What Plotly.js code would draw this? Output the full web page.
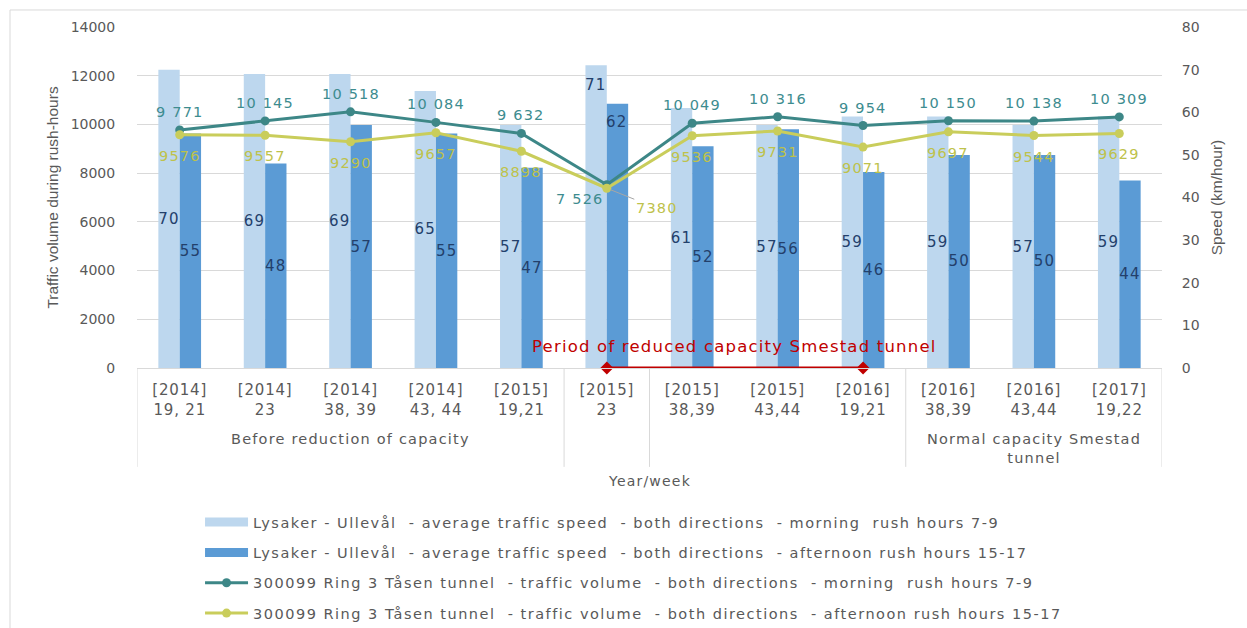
<!DOCTYPE html>
<html><head><meta charset="utf-8">
<script src="https://cdn.plot.ly/plotly-3.0.1.min.js"></script>
<style>
html,body{margin:0;padding:0;background:#fff}
#chart{width:1247px;height:628px}
.legendtext{letter-spacing:1.5px}
.bartext, .annotation-text{letter-spacing:1.2px}
.xtick text{letter-spacing:0.8px}
</style>
</head><body><div id="chart"></div>
<script>
// ---- data ----
const periods = ["[2014]<br>19, 21","[2014]<br>23","[2014]<br>38, 39","[2014]<br>43, 44","[2015]<br>19,21","[2015]<br>23","[2015]<br>38,39","[2015]<br>43,44","[2016]<br>19,21","[2016]<br>38,39","[2016]<br>43,44","[2017]<br>19,22"];
const speedMorning   = [70,69,69,65,57,71,61,57,59,59,57,59];
const speedAfternoon = [55,48,57,55,47,62,52,56,46,50,50,44];
const volumeMorning   = [9771,10145,10518,10084,9632,7526,10049,10316,9954,10150,10138,10309];
const volumeAfternoon = [9576,9557,9290,9657,8898,7380,9536,9731,9071,9697,9544,9629];
const groupLabels = ["Before reduction of capacity","","","Normal capacity Smestad<br>tunnel"];
const groupSizes  = [5,1,3,3];
const reducedPeriod = ["[2015]<br>23","[2016]<br>19,21"];
const reducedLabel = "Period of reduced capacity Smestad tunnel";
const axisTitleLeft = "Traffic volume during rush-hours";
const axisTitleRight = "Speed (km/hour)";
const axisTitleX = "Year/week";
const seriesNames = [
  "Lysaker - Ullevål\u00a0 - average traffic speed\u00a0 - both directions\u00a0 - morning\u00a0 rush hours 7-9",
  "Lysaker - Ullevål\u00a0 - average traffic speed\u00a0 - both directions\u00a0 - afternoon rush hours 15-17",
  "300099 Ring 3 Tåsen tunnel\u00a0 - traffic volume\u00a0 - both directions\u00a0 - morning\u00a0 rush hours 7-9",
  "300099 Ring 3 Tåsen tunnel\u00a0 - traffic volume\u00a0 - both directions\u00a0 - afternoon rush hours 15-17"
];

// ---- style ----
const C = {light:"#bdd7ee", dark:"#5b9bd5", teal:"#3d8787", yellow:"#c9cd5b",
           tealText:"#3d8c8f", yellowText:"#bec24b", barText:"#23406b", grid:"#d9d9d9", text:"#595959", red:"#c00000"};
const F = "DejaVu Sans, Verdana, sans-serif";
const TF = "Liberation Sans, Arial, sans-serif";
const spaced = v => String(v).replace(/\B(?=(\d{3})+(?!\d))/g, "\u00a0");
const ri = volumeMorning.indexOf(Math.min(...volumeMorning));   // the tunnel-closure dip
const barShift = 10.7;

const traces = [
  // legend-only swatches for the bar series (wide rectangles as in the original)
  {type:"scatter", mode:"lines", x:[null], y:[null], name:seriesNames[0], line:{color:C.light, width:9}, legendgroup:"a", hoverinfo:"skip"},
  {type:"scatter", mode:"lines", x:[null], y:[null], name:seriesNames[1], line:{color:C.dark, width:9}, legendgroup:"b", hoverinfo:"skip"},
  {type:"bar", x:periods, y:speedMorning, name:seriesNames[0], marker:{color:C.light}, showlegend:false,
   text:speedMorning.map((v,i)=> i===ri ? "" : String(v)), textposition:"inside", insidetextanchor:"middle",
   constraintext:"none", textangle:0, textfont:{family:F, size:15, color:C.barText}, yaxis:"y", hoverinfo:"skip"},
  {type:"bar", x:periods, y:speedAfternoon, name:seriesNames[1], marker:{color:C.dark}, showlegend:false,
   text:speedAfternoon.map((v,i)=> i===ri ? "" : String(v)), textposition:"inside", insidetextanchor:"middle",
   constraintext:"none", textangle:0, textfont:{family:F, size:15, color:C.barText}, yaxis:"y", hoverinfo:"skip"},
  {type:"scatter", mode:"lines+markers", x:reducedPeriod, y:[0,0], showlegend:false, cliponaxis:false,
   line:{color:C.red, width:3}, marker:{symbol:"diamond", size:10, color:C.red}, yaxis:"y", hoverinfo:"skip"},
  {type:"scatter", mode:"lines+markers", x:periods, y:volumeMorning, name:seriesNames[2], yaxis:"y2",
   line:{color:C.teal, width:3}, marker:{size:9, color:C.teal}, cliponaxis:false, legendgroup:"c", hoverinfo:"skip"},
  {type:"scatter", mode:"lines+markers", x:periods, y:volumeAfternoon, name:seriesNames[3], yaxis:"y2",
   line:{color:C.yellow, width:3}, marker:{size:9, color:C.yellow}, cliponaxis:false, legendgroup:"d", hoverinfo:"skip"}
];

const shapes = [];
const annotations = [];

// data labels of the two volume lines
periods.forEach((p,i)=>{
  if (i === ri) {
    annotations.push({xref:"x", yref:"y2", x:p, y:volumeMorning[i], text:spaced(volumeMorning[i]), showarrow:false,
      xanchor:"right", yanchor:"top", xshift:-1, yshift:-4, font:{family:F, size:14.5, color:C.tealText}});
    annotations.push({xref:"x", yref:"y2", x:p, y:volumeAfternoon[i], text:String(volumeAfternoon[i]),
      showarrow:true, arrowhead:0, arrowwidth:1, arrowcolor:"#a6a6a6", ax:50, ay:20, standoff:4,
      font:{family:F, size:14.5, color:C.yellowText}});
  } else {
    annotations.push({xref:"x", yref:"y2", x:p, y:volumeMorning[i], text:spaced(volumeMorning[i]), showarrow:false,
      yanchor:"bottom", yshift:8, font:{family:F, size:14.5, color:C.tealText}});
    annotations.push({xref:"x", yref:"y2", x:p, y:volumeAfternoon[i], text:String(volumeAfternoon[i]), showarrow:false,
      yanchor:"top", yshift:-11, font:{family:F, size:14.5, color:C.yellowText}});
  }
});
// speed labels of the dip period sit at the top of the bars
annotations.push({xref:"x", yref:"y", x:periods[ri], y:speedMorning[ri], text:String(speedMorning[ri]), showarrow:false,
  yanchor:"top", yshift:-9, xshift:-barShift, font:{family:F, size:15, color:C.barText}});
annotations.push({xref:"x", yref:"y", x:periods[ri], y:speedAfternoon[ri], text:String(speedAfternoon[ri]), showarrow:false,
  yanchor:"top", yshift:-7, xshift:barShift, font:{family:F, size:15, color:C.barText}});

// group dividers and labels derived from group sizes
let start = 0;
shapes.push({type:"line", xref:"x", yref:"paper", x0:-0.5, x1:-0.5, y0:0, y1:-0.29, line:{color:C.grid, width:1}});
groupSizes.forEach((n,gi)=>{
  const end = start + n;
  shapes.push({type:"line", xref:"x", yref:"paper", x0:end-0.5, x1:end-0.5, y0:0, y1:-0.29, line:{color:C.grid, width:1}});
  if (groupLabels[gi]) annotations.push({xref:"x", yref:"paper", x:start+(n-1)/2, y:-0.178, yanchor:"top",
     text:groupLabels[gi], showarrow:false, font:{family:F, size:14.5, color:C.text}});
  start = end;
});
// outer frame
shapes.push({type:"rect", xref:"paper", yref:"paper", x0:-0.1239, x1:1.2, y0:-0.9, y1:1.0499, line:{color:C.grid, width:1}, layer:"below"});
// period annotation
const p0 = periods.indexOf(reducedPeriod[0]), p1 = periods.indexOf(reducedPeriod[1]);
annotations.push({xref:"x", yref:"y2", x:(p0+p1)/2, y:900, text:reducedLabel, showarrow:false,
  font:{family:F, size:16.5, color:C.red}});
annotations.push({xref:"paper", yref:"paper", x:0.5, y:-0.331, yanchor:"middle", text:axisTitleX, showarrow:false,
  font:{family:F, size:14, color:C.text}});

const layout = {
  width:1247, height:628,
  margin:{l:137, r:85, t:27, b:260, autoexpand:false},
  paper_bgcolor:"#fff", plot_bgcolor:"rgba(0,0,0,0)",
  barmode:"group", bargap:0.5, bargroupgap:0,
  showlegend:true,
  legend:{x:0.0615, y:-0.405, xanchor:"left", yanchor:"top", orientation:"v", traceorder:"grouped",
          tracegroupgap:8.5, itemwidth:43, font:{family:F, size:14.5, color:C.text}},
  xaxis:{type:"category", range:[-0.5, 11.5], showline:true, linecolor:C.grid, showgrid:false,
         ticks:"outside", ticklen:8, tickcolor:"rgba(0,0,0,0)", automargin:false,
         tickfont:{family:F, size:15, color:C.text}, fixedrange:true},
  yaxis:{side:"right", range:[0,80], dtick:10, showgrid:false, zeroline:false, showline:false, automargin:false,
         tickfont:{family:F, size:14, color:C.text}, ticks:"outside", ticklen:16, tickcolor:"rgba(0,0,0,0)",
         title:{text:axisTitleRight, font:{family:TF, size:15.5, color:C.text}, standoff:12}},
  yaxis2:{overlaying:"y", side:"left", range:[0,14000], dtick:2000, tickformat:"d", showgrid:true, gridcolor:C.grid,
          zeroline:false, showline:false, automargin:false, tickfont:{family:F, size:14, color:C.text},
          ticks:"outside", ticklen:18, tickcolor:"rgba(0,0,0,0)",
          title:{text:axisTitleLeft, font:{family:TF, size:15.5, color:C.text}, standoff:8}},
  shapes:shapes, annotations:annotations
};
Plotly.newPlot("chart", traces, layout, {displayModeBar:false, staticPlot:true});
</script></body></html>
